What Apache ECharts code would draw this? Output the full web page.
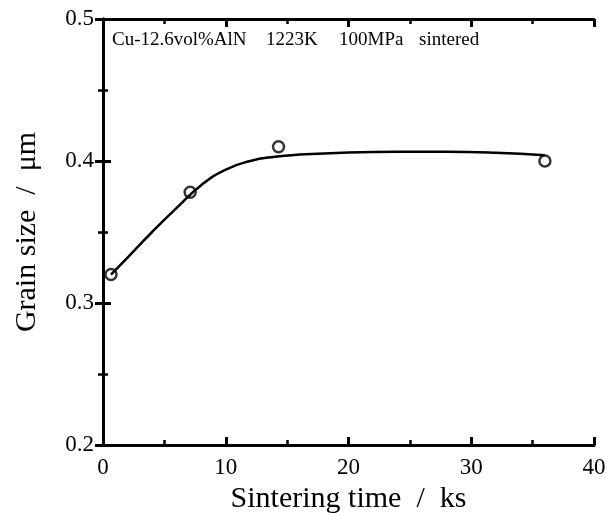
<!DOCTYPE html>
<html>
<head>
<meta charset="utf-8">
<script src="https://cdn.jsdelivr.net/npm/echarts@6/dist/echarts.min.js"></script>
<style>
    html, body { margin: 0; padding: 0; background: #fff; }
    #chart { width: 606px; height: 513px; }
</style>
</head>
<body>
<div id="chart"></div>
<script>
    // measured points
    var timeKs = [0.65, 7.1, 14.3, 36.0]
    var grainSize = [0.320, 0.378, 0.410, 0.400]

    // fitted curve
    var curveTime = [0.65, 2, 4, 6, 8, 10, 12, 14, 16, 20, 24, 28, 32, 36]
    var curveSize = [0.320, 0.332, 0.350, 0.367, 0.383, 0.394, 0.400, 0.403, 0.4045, 0.406, 0.4065, 0.4065, 0.4058, 0.404]

    var xTicks = [0, 10, 20, 30, 40]
    var yTicks = [0.2, 0.3, 0.4, 0.5]

    // annotation pieces and where they start
    var noteParts = ['Cu-12.6vol%AlN', '1223K', '100MPa', 'sintered']
    var noteLeft = [112, 266, 339, 419]

    var font = '"Liberation Serif", "DejaVu Serif", serif'

    function zip(a, b) {
        return a.map(function (v, i) { return [v, b[i]] })
    }

    var chart = echarts.init(document.getElementById('chart'))

    var xBase = {
        type: 'value',
        min: xTicks[0],
        max: xTicks[xTicks.length - 1],
        interval: 10,
        axisLine: {show: true, lineStyle: {color: '#000', width: 3}},
        axisTick: {show: true, inside: true, length: 8, lineStyle: {color: '#000', width: 3}},
        minorTick: {show: true, splitNumber: 2, length: 5, lineStyle: {color: '#000', width: 2.5}},
        splitLine: {show: false}
    }
    var yBase = {
        type: 'value',
        min: yTicks[0],
        max: yTicks[yTicks.length - 1],
        interval: 0.1,
        axisLine: {show: true, lineStyle: {color: '#000', width: 3}},
        axisTick: {show: true, inside: true, length: 8, lineStyle: {color: '#000', width: 3}},
        minorTick: {show: true, splitNumber: 2, length: 5, lineStyle: {color: '#000', width: 2.5}},
        splitLine: {show: false}
    }

    chart.setOption({
        animation: false,
        backgroundColor: '#fff',
        grid: {left: 103, right: 12, top: 19, bottom: 68, containLabel: false, outerBoundsMode: 'none'},
        graphic: noteParts.map(function (t, i) {
            return {
                type: 'text',
                x: noteLeft[i],
                y: 40,
                style: {
                    text: t,
                    font: '19px ' + font,
                    fill: '#000',
                    verticalAlign: 'middle'
                }
            }
        }),
        xAxis: [
            Object.assign({}, xBase, {
                position: 'bottom',
                name: 'Sintering time  /  ks',
                nameLocation: 'middle',
                nameGap: 38,
                nameTextStyle: {fontFamily: font, fontSize: 30, color: '#000'},
                axisLabel: {fontFamily: font, fontSize: 23, color: '#000', margin: 11}
            }),
            Object.assign({}, xBase, {position: 'top', axisLabel: {show: false}})
        ],
        yAxis: [
            Object.assign({}, yBase, {
                position: 'left',
                name: 'Grain size  /  μm',
                nameLocation: 'middle',
                nameGap: 61,
                nameTextStyle: {fontFamily: font, fontSize: 30, color: '#000'},
                axisLabel: {fontFamily: font, fontSize: 23, color: '#000', margin: 9,
                    formatter: function (v) { return v.toFixed(1) }}
            }),
            Object.assign({}, yBase, {position: 'right', axisLabel: {show: false}})
        ],
        series: [
            {
                type: 'line',
                data: zip(curveTime, curveSize),
                smooth: 0.5,
                showSymbol: false,
                lineStyle: {color: '#000', width: 2.5}
            },
            {
                type: 'scatter',
                data: zip(timeKs, grainSize),
                symbol: 'circle',
                symbolSize: 11,
                itemStyle: {color: '#fff', borderColor: '#000', borderWidth: 2.5}
            }
        ]
    })
</script>
</body>
</html>
